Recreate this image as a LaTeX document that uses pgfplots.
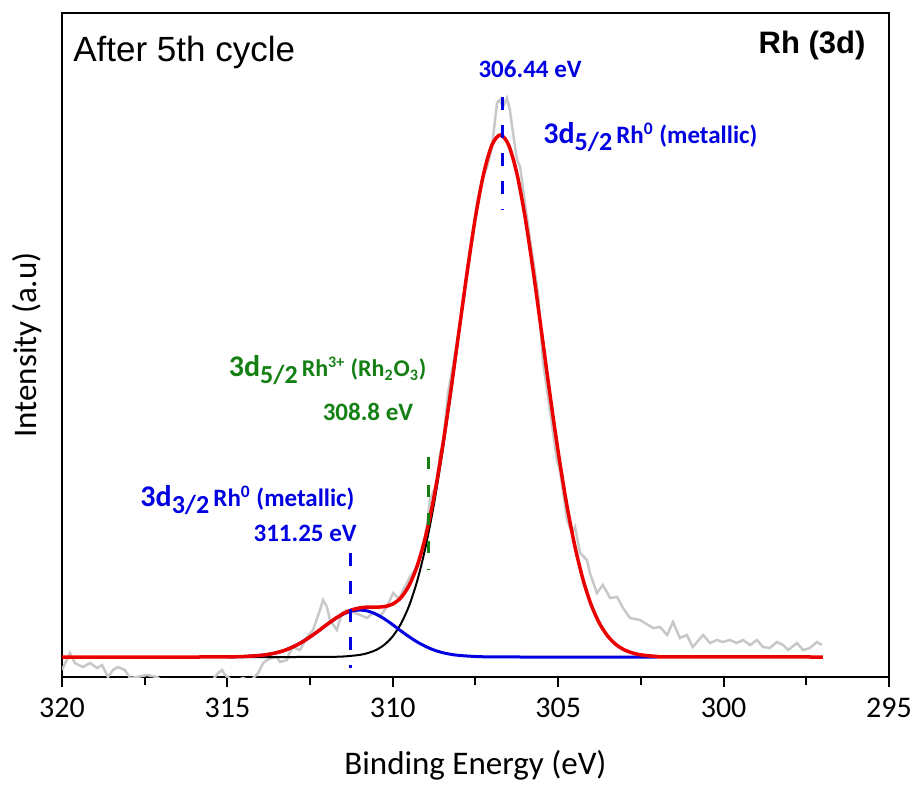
\documentclass[border=0pt]{standalone}
\usepackage{pgfplots}
\pgfplotsset{compat=1.18}
\usepackage{fontspec}
\setmainfont{Carlito}
\newfontfamily\arial{Liberation Sans}
\definecolor{fitred}{RGB}{235,0,0}
\definecolor{pkblue}{RGB}{0,0,225}
\definecolor{rawgray}{RGB}{200,200,200}
\definecolor{oxgreen}{RGB}{20,128,20}

\begin{document}
\begin{tikzpicture}
\begin{axis}[
    scale only axis, width=413.5pt, height=332pt,
    x dir=reverse, xmin=295, xmax=320, ymin=0, ymax=664,
    xtick={295,300,...,320}, minor x tick num=1,
    ytick=\empty,
    xtick pos=bottom, tick align=outside,
    major tick length=5pt, minor tick length=4pt,
    every tick/.style={black, line width=1pt},
    axis line style={line width=1pt},
    /pgf/number format/assume math mode=true,
    xticklabel style={font=\fontsize{15}{16}\selectfont, yshift=-2pt},
    xlabel={Binding Energy (eV)}, ylabel={Intensity (a.u)},
    xlabel style={font=\fontsize{16.5}{18}\selectfont, at={(axis description cs:0.5,-0.1325)}, anchor=center},
    ylabel style={font=\fontsize{16.5}{18}\selectfont, at={(axis description cs:-0.0423,0.5)}, anchor=center},
]
% measured spectrum
\addplot[rawgray, line width=1.25pt] coordinates {
 (320.00,7)(319.76,24)(319.61,14)(319.37,10)(319.15,14)(318.94,9)(318.79,12)(318.61,0)
 (318.46,7)(318.31,10)(318.10,7)(317.94,-1)(317.73,0)(317.43,2)(317.13,0)(316.80,-8)
 (316.30,-6)(315.80,-10)(315.45,-3)(315.28,4)(315.16,7)(315.07,2)(314.80,-5)(314.53,-1)
 (314.30,-4)(314.07,4)(313.92,14)(313.80,17)(313.65,19)(313.50,20)(313.41,15)(313.20,17)
 (313.11,25)(313.02,30)(312.81,27)(312.59,40)(312.41,47)(312.20,67)(312.11,77)(311.99,70)
 (311.90,57)(311.69,47)(311.54,64)(311.38,67)(311.20,65)(310.99,62)(310.78,59)(310.60,64)
 (310.39,60)(310.18,70)(309.99,84)(309.87,80)(309.78,80)(309.69,87)(309.57,94)(309.48,100)
 (309.27,110)(309.09,130)(308.97,150)(308.88,177)(308.66,194)(308.57,224)(308.48,234)
 (308.33,284)(308.18,312)(307.91,364)(307.67,420)(307.45,474)(307.30,497)(307.15,510)
 (307.00,530)(306.85,574)(306.76,577)(306.67,570)(306.55,579)(306.46,567)(306.37,545)
 (306.25,518)(306.15,510)(306.06,487)(305.85,437)(305.61,384)(305.46,315)(305.25,267)
 (305.04,217)(304.95,207)(304.73,157)(304.58,144)(304.49,150)(304.34,124)(304.13,117)
 (304.04,104)(303.83,84)(303.65,92)(303.43,79)(303.22,80)(303.04,69)(302.83,59)(302.53,57)
 (302.13,49)(301.92,50)(301.71,42)(301.53,55)(301.32,39)(301.11,42)(300.93,30)(300.62,42)
 (300.41,34)(300.20,37)(300.02,35)(299.81,37)(299.60,34)(299.41,37)(299.20,32)(298.99,37)
 (298.81,30)(298.60,29)(298.39,35)(298.20,32)(298.05,27)(297.78,34)(297.60,27)(297.39,29)
 (297.18,35)(297.03,32)
};
% 3d5/2 component
\addplot[black, line width=1pt, smooth] coordinates {
 (314.6,20)(313,20)(312,20.1)(311.5,20.5)(311.0,22.1)(310.75,24)(310.5,27.1)(310.25,32.4)
 (310.0,40.8)(309.75,53.5)(309.5,71.9)(309.25,97.5)(309.0,131.4)(308.75,174.0)(308.5,225.1)
 (308.25,282.7)(308.0,344.1)(307.75,404.7)(307.5,459.7)(307.25,503.6)(307.0,532.1)
 (306.75,542)(306.5,532.1)(306.25,503.6)(306.0,459.7)(305.75,404.7)(305.5,344.1)
 (305.25,282.7)(305.0,225.1)(304.75,174.0)(304.5,131.4)(304.25,97.5)(304.0,71.9)
 (303.75,53.5)(303.5,40.8)(303.25,32.4)(303.0,27.1)(302.75,24)(302.5,22.1)(302.0,20.5)
 (301.5,20.1)(297,20)
};
% 3d3/2 component
\addplot[pkblue, line width=1.5pt, smooth] coordinates {
 (315,20.1)(314.5,20.5)(314.0,21.6)(313.75,22.7)(313.5,24.4)(313.25,26.9)(313.0,30.4)
 (312.75,34.8)(312.5,40.1)(312.25,46.0)(312.0,52.2)(311.75,58.0)(311.5,62.8)(311.25,65.9)
 (311.0,67)(310.75,65.9)(310.5,62.8)(310.25,58.0)(310.0,52.2)(309.75,46.0)(309.5,40.1)
 (309.25,34.8)(309.0,30.4)(308.75,26.9)(308.5,24.4)(308.25,22.7)(308.0,21.6)(307.5,20.5)
 (307.0,20.1)(306.0,20)(302.0,20)
};
% envelope
\addplot[fitred, line width=1.75pt, smooth] coordinates {
 (320,20)(316,20)(315,20.1)(314.5,20.5)(314.0,21.6)(313.75,22.7)(313.5,24.4)(313.25,26.9)
 (313.0,30.4)(312.75,34.8)(312.5,40.1)(312.25,46.0)(312.0,52.3)(311.75,58.2)(311.5,63.3)
 (311.25,67.0)(311.0,69.1)(310.75,69.9)(310.5,69.9)(310.25,70.4)(310.0,73.0)(309.75,79.5)
 (309.5,92.0)(309.25,112.3)(309.0,141.8)(308.75,180.9)(308.5,229.5)(308.25,285.4)
 (308.0,345.7)(307.75,405.6)(307.5,460.2)(307.25,503.8)(307.0,532.2)(306.75,542)
 (306.5,532.1)(306.25,503.6)(306.0,459.7)(305.75,404.7)(305.5,344.1)(305.25,282.7)
 (305.0,225.1)(304.75,174.0)(304.5,131.4)(304.25,97.5)(304.0,71.9)(303.75,53.5)
 (303.5,40.8)(303.25,32.4)(303.0,27.1)(302.75,24)(302.5,22.1)(302.0,20.5)(301.5,20.1)(297,20)
};
% peak position markers
\addplot[pkblue, line width=1.5pt, dash pattern=on 6.5pt off 7.5pt] coordinates {(306.67,580)(306.67,467)};
\addplot[oxgreen, line width=1.5pt, dash pattern=on 6pt off 8pt] coordinates {(308.91,220)(308.91,107)};
\addplot[pkblue, line width=1.5pt, dash pattern=on 6.5pt off 7.5pt] coordinates {(311.29,124)(311.29,9)};

\node[anchor=west, inner sep=0pt, font=\arial\fontsize{17.5}{19}\selectfont] at (axis cs:319.67,625) {After 5th cycle};
\node[anchor=east, inner sep=0pt, font=\arial\bfseries\fontsize{15.5}{17}\selectfont] at (axis cs:295.70,632) {Rh (3d)};

\node[text=pkblue, font=\bfseries\fontsize{12.5}{14}\selectfont] at (axis cs:305.85,608) {306.44 eV};
\node[anchor=west, inner sep=0pt, text=pkblue, font=\bfseries\fontsize{12.5}{14}\selectfont] at (axis cs:305.46,540)
  {{\fontsize{15}{16}\selectfont 3d\raisebox{-0.45ex}{\fontsize{13}{14}\selectfont 5/2}}\,Rh\textsuperscript{0} (metallic)};

\node[anchor=east, inner sep=0pt, text=oxgreen, font=\bfseries\fontsize{12}{14}\selectfont] at (axis cs:308.97,307)
  {{\fontsize{15}{16}\selectfont 3d\raisebox{-0.45ex}{\fontsize{13}{14}\selectfont 5/2}}\,Rh\textsuperscript{3+} (Rh\textsubscript{2}O\textsubscript{3})};
\node[text=oxgreen, font=\bfseries\fontsize{12.5}{14}\selectfont] at (axis cs:310.75,265) {308.8 eV};

\node[anchor=west, inner sep=0pt, text=pkblue, font=\bfseries\fontsize{12.5}{14}\selectfont] at (axis cs:317.64,177)
  {{\fontsize{15}{16}\selectfont 3d\raisebox{-0.45ex}{\fontsize{13}{14}\selectfont 3/2}}\,Rh\textsuperscript{0} (metallic)};
\node[text=pkblue, font=\bfseries\fontsize{12.5}{14}\selectfont] at (axis cs:312.65,144) {311.25 eV};
\end{axis}
\pgfresetboundingbox
\path[use as bounding box] ([shift={(-31pt,-54pt)}]current axis.south west) rectangle ([shift={(11.5pt,6.5pt)}]current axis.north east);
\end{tikzpicture}
\end{document}
